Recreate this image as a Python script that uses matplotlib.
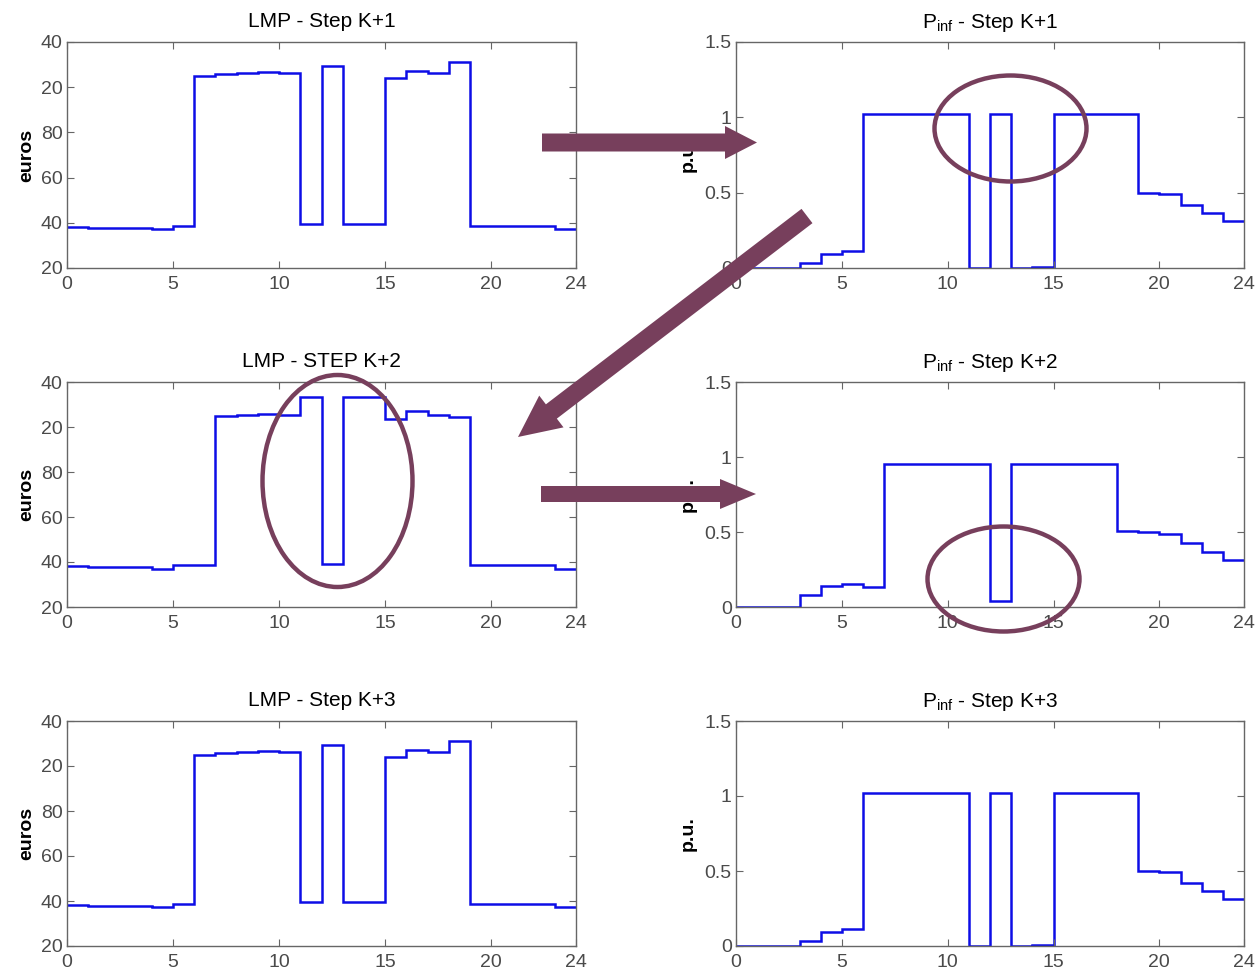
import numpy as np
import matplotlib
matplotlib.use("Agg")
import matplotlib.pyplot as plt
from matplotlib.patches import Ellipse, FancyArrow

plt.rcParams['font.family'] = ['Liberation Sans', 'DejaVu Sans']
plt.rcParams['mathtext.fontset'] = 'custom'
plt.rcParams['mathtext.rm'] = 'Liberation Sans'
plt.rcParams['mathtext.it'] = 'Liberation Sans'

# hourly steps 0..24
hours = np.arange(25)

# LMP (euros); upper part of the scale is labelled 20/40 again
lmp_k1 = [38.2, 37.9, 37.6, 37.6, 37.2, 38.6, 104.8, 105.7, 106.2, 106.8,
          106.4, 39.4, 109.5, 39.4, 39.4, 104.2, 107.3, 106.2, 111.1, 38.6,
          38.6, 38.6, 38.6, 37.2]
lmp_k2 = [38.2, 37.6, 37.6, 37.6, 37.1, 38.7, 38.7, 104.7, 105.2, 105.8,
          105.5, 113.3, 39.3, 113.3, 113.3, 103.7, 107.0, 105.3, 104.3, 38.7,
          38.7, 38.7, 38.7, 37.0]
lmp_k3 = [38.2, 37.9, 37.6, 37.6, 37.2, 38.6, 104.8, 105.7, 106.2, 106.8,
          106.4, 39.4, 109.5, 39.4, 39.4, 104.2, 107.3, 106.2, 111.1, 38.6,
          38.6, 38.6, 38.6, 37.2]

# P_inf (p.u.)
pinf_k1 = [0, 0, 0, 0.036, 0.096, 0.114, 1.02, 1.02, 1.02, 1.02,
           1.02, 0, 1.02, 0, 0.005, 1.02, 1.02, 1.02, 1.02, 0.497,
           0.492, 0.42, 0.367, 0.312]
pinf_k2 = [0, 0, 0, 0.078, 0.138, 0.154, 0.136, 0.953, 0.953, 0.953,
           0.953, 0.953, 0.042, 0.953, 0.953, 0.953, 0.953, 0.953, 0.51, 0.497,
           0.49, 0.425, 0.37, 0.312]
pinf_k3 = [0, 0, 0, 0.036, 0.096, 0.114, 1.02, 1.02, 1.02, 1.02,
           1.02, 0, 1.02, 0, 0.005, 1.02, 1.02, 1.02, 1.02, 0.497,
           0.492, 0.42, 0.367, 0.312]

lmp_titles = ['LMP - Step K+1', 'LMP - STEP K+2', 'LMP - Step K+3']
pinf_titles = [r'P$_{\mathrm{inf}}$ - Step K+1', r'P$_{\mathrm{inf}}$ - Step K+2',
               r'P$_{\mathrm{inf}}$ - Step K+3']

xticks = [0, 5, 10, 15, 20, 24]
lmp_ticks = [20, 40, 60, 80, 100, 120]
lmp_ticklabels = ['20', '40', '60', '80', '20', '40']
pinf_ticks = [0, 0.5, 1, 1.5]
pinf_ticklabels = ['0', '0.5', '1', '1.5']

W, H = 1258, 974
fig = plt.figure(figsize=(W / 100, H / 100), dpi=100)

def px_axes(x0, y0, x1, y1):
    return fig.add_axes([x0 / W, 1 - y1 / H, (x1 - x0) / W, (y1 - y0) / H])

def style(ax):
    ax.set_xlim(0, 24)
    ax.set_xticks(xticks)
    ax.tick_params(direction='in', top=True, right=True, length=5,
                   labelsize=14, colors='#666666', labelcolor='#4a4a4a')
    ax.tick_params(axis='x', pad=6)
    ax.tick_params(axis='y', pad=3)
    for s in ax.spines.values():
        s.set_color('#666666')
        s.set_linewidth(1.0)

rows = [(42, 268), (382, 607), (721, 946)]
lmp_data = [lmp_k1, lmp_k2, lmp_k3]
pinf_data = [pinf_k1, pinf_k2, pinf_k3]

for i, (y0, y1) in enumerate(rows):
    ax = px_axes(67, y0, 576, y1)
    ax.stairs(lmp_data[i], hours, baseline=None, color='#0d0de6', lw=1.8)
    style(ax)
    ax.set_ylim(20, 120)
    ax.set_yticks(lmp_ticks)
    ax.set_yticklabels(lmp_ticklabels)
    ax.set_ylabel('euros', fontsize=14, fontweight='bold', labelpad=4)
    ax.set_title(lmp_titles[i], fontsize=15, pad=11)

    ax = px_axes(736, y0, 1244, y1)
    ax.stairs(pinf_data[i], hours, baseline=None, color='#0d0de6', lw=1.8)
    style(ax)
    ax.set_ylim(0, 1.5)
    ax.set_yticks(pinf_ticks)
    ax.set_yticklabels(pinf_ticklabels)
    ax.set_ylabel('p.u.', fontsize=14, fontweight='bold', labelpad=6)
    ax.set_title(pinf_titles[i], fontsize=15, pad=10)

# annotation layer in figure pixels
ov = fig.add_axes([0, 0, 1, 1])
ov.set_xlim(0, W)
ov.set_ylim(H, 0)
ov.axis('off')
ov.patch.set_alpha(0)

mark = '#773f5c'
ov.add_patch(FancyArrow(542, 142.5, 215, 0, width=18, head_width=33,
                        head_length=32, length_includes_head=True,
                        color=mark, lw=0))
ov.add_patch(FancyArrow(541, 494, 215, 0, width=16, head_width=30,
                        head_length=36, length_includes_head=True,
                        color=mark, lw=0))
ov.add_patch(FancyArrow(807, 216, 518 - 807, 437 - 216, width=18, head_width=40,
                        head_length=42, length_includes_head=True,
                        color=mark, lw=0))

for cx, cy, ew, eh in [(1010.5, 128.5, 152, 106), (337.5, 481, 150, 212),
                       (1003.5, 579, 152, 105)]:
    ov.add_patch(Ellipse((cx, cy), ew, eh, fill=False, ec=mark, lw=3.2))

fig.savefig('out.png', dpi=100)
